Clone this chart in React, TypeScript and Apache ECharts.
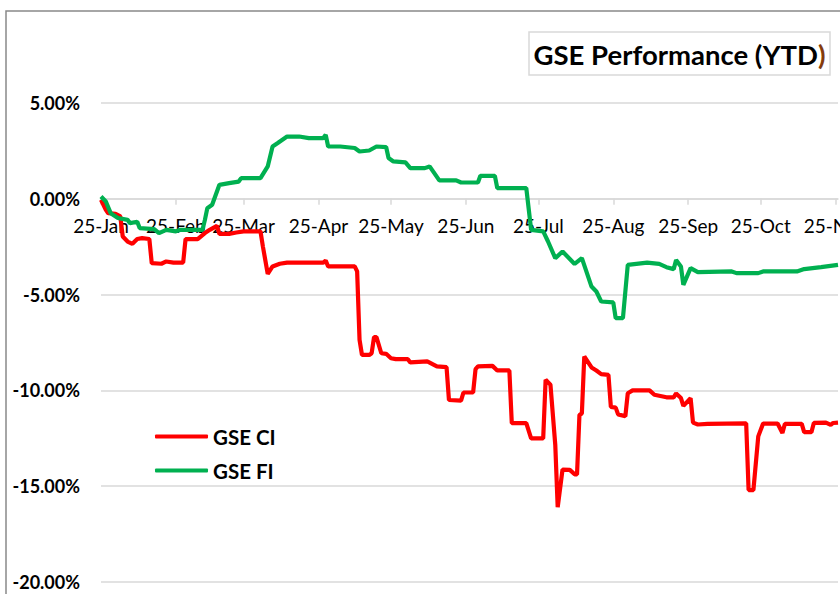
import React, { useEffect, useRef } from "react";
import * as echarts from "echarts";

const monthNames = ["Jan", "Feb", "Mar", "Apr", "May", "Jun", "Jul", "Aug", "Sep", "Oct", "Nov", "Dec"];
const yTicks = [-20, -15, -10, -5, 0, 5];
const seriesNames = ["GSE CI", "GSE FI"];

const gseCI: [string, number][] = [
  ["2025-01-01", -0.05], ["2025-01-03", -0.57], ["2025-01-04", -0.75], ["2025-01-07", -0.78],
  ["2025-01-09", -0.92], ["2025-01-10", -1.97], ["2025-01-12", -2.23], ["2025-01-14", -2.35],
  ["2025-01-16", -2.1], ["2025-01-18", -2.05], ["2025-01-21", -2.1], ["2025-01-22", -3.36],
  ["2025-01-26", -3.39], ["2025-01-28", -3.27], ["2025-01-31", -3.33], ["2025-02-04", -3.33],
  ["2025-02-05", -2.1], ["2025-02-10", -2.1], ["2025-02-13", -1.79], ["2025-02-15", -1.62],
  ["2025-02-18", -1.41], ["2025-02-19", -1.83], ["2025-02-23", -1.83], ["2025-02-26", -1.76],
  ["2025-03-01", -1.7], ["2025-03-08", -1.7], ["2025-03-09", -2.49], ["2025-03-11", -3.92],
  ["2025-03-13", -3.53], ["2025-03-16", -3.39], ["2025-03-19", -3.33], ["2025-04-03", -3.33],
  ["2025-04-04", -3.22], ["2025-04-05", -3.53], ["2025-04-16", -3.53], ["2025-04-17", -3.79],
  ["2025-04-18", -7.36], ["2025-04-19", -8.15], ["2025-04-22", -8.15], ["2025-04-23", -8.06],
  ["2025-04-24", -7.22], ["2025-04-25", -7.22], ["2025-04-27", -8.06], ["2025-04-29", -8.09],
  ["2025-05-01", -8.32], ["2025-05-03", -8.37], ["2025-05-08", -8.37], ["2025-05-09", -8.54],
  ["2025-05-16", -8.49], ["2025-05-20", -8.75], ["2025-05-24", -8.79], ["2025-05-25", -10.5],
  ["2025-05-30", -10.53], ["2025-05-31", -10.11], ["2025-06-04", -10.11], ["2025-06-05", -8.89],
  ["2025-06-06", -8.75], ["2025-06-12", -8.72], ["2025-06-14", -8.96], ["2025-06-19", -8.96],
  ["2025-06-20", -11.71], ["2025-06-26", -11.71], ["2025-06-28", -12.5], ["2025-07-03", -12.5],
  ["2025-07-04", -9.45], ["2025-07-06", -9.7], ["2025-07-08", -12.85], ["2025-07-09", -16.1],
  ["2025-07-11", -14.13], ["2025-07-14", -14.15], ["2025-07-16", -14.38], ["2025-07-17", -14.38],
  ["2025-07-18", -11.28], ["2025-07-19", -11.2], ["2025-07-20", -8.23], ["2025-07-23", -8.8],
  ["2025-07-25", -8.96], ["2025-07-27", -9.15], ["2025-07-30", -9.19], ["2025-07-31", -10.86],
  ["2025-08-02", -10.9], ["2025-08-03", -11.25], ["2025-08-06", -11.35], ["2025-08-07", -10.15],
  ["2025-08-09", -10.0], ["2025-08-16", -10.0], ["2025-08-18", -10.23], ["2025-08-23", -10.36],
  ["2025-08-26", -10.36], ["2025-08-27", -10.16], ["2025-08-29", -10.4], ["2025-08-30", -10.81],
  ["2025-09-02", -10.41], ["2025-09-03", -11.68], ["2025-09-05", -11.78], ["2025-09-09", -11.75],
  ["2025-09-25", -11.72], ["2025-09-26", -15.2], ["2025-09-28", -15.2], ["2025-09-30", -12.4],
  ["2025-10-02", -11.73], ["2025-10-08", -11.73], ["2025-10-10", -12.22], ["2025-10-11", -11.75],
  ["2025-10-18", -11.75], ["2025-10-19", -12.18], ["2025-10-22", -12.18], ["2025-10-23", -11.7],
  ["2025-10-28", -11.68], ["2025-10-30", -11.8], ["2025-10-31", -11.7], ["2025-11-02", -11.68],
];

const gseFI: [string, number][] = [
  ["2025-01-01", 0.12], ["2025-01-03", -0.14], ["2025-01-05", -0.75], ["2025-01-08", -1.0],
  ["2025-01-12", -1.1], ["2025-01-13", -1.27], ["2025-01-16", -1.2], ["2025-01-17", -1.53],
  ["2025-01-23", -1.58], ["2025-01-25", -1.79], ["2025-01-28", -1.62], ["2025-02-01", -1.7],
  ["2025-02-03", -1.62], ["2025-02-12", -1.62], ["2025-02-13", -1.1], ["2025-02-14", -0.49],
  ["2025-02-16", -0.31], ["2025-02-19", 0.73], ["2025-02-23", 0.82], ["2025-02-27", 0.9],
  ["2025-02-28", 1.08], ["2025-03-08", 1.08], ["2025-03-11", 1.69], ["2025-03-13", 2.73],
  ["2025-03-15", 2.9], ["2025-03-19", 3.25], ["2025-03-24", 3.25], ["2025-03-28", 3.17],
  ["2025-04-03", 3.17], ["2025-04-04", 3.34], ["2025-04-05", 2.73], ["2025-04-10", 2.73],
  ["2025-04-16", 2.65], ["2025-04-18", 2.47], ["2025-04-22", 2.52], ["2025-04-25", 2.73],
  ["2025-04-29", 2.7], ["2025-04-30", 2.13], ["2025-05-02", 1.95], ["2025-05-07", 1.9],
  ["2025-05-09", 1.6], ["2025-05-15", 1.6], ["2025-05-17", 1.69], ["2025-05-21", 0.96],
  ["2025-05-28", 0.96], ["2025-05-30", 0.85], ["2025-06-06", 0.85], ["2025-06-07", 1.2],
  ["2025-06-13", 1.2], ["2025-06-14", 0.56], ["2025-06-26", 0.56], ["2025-06-28", -1.62],
  ["2025-07-03", -1.7], ["2025-07-05", -2.23], ["2025-07-08", -3.1], ["2025-07-11", -2.75],
  ["2025-07-16", -3.4], ["2025-07-19", -3.1], ["2025-07-23", -4.58], ["2025-07-25", -4.84],
  ["2025-07-27", -5.36], ["2025-08-01", -5.41], ["2025-08-02", -6.23], ["2025-08-05", -6.23],
  ["2025-08-07", -3.45], ["2025-08-15", -3.33], ["2025-08-20", -3.4], ["2025-08-23", -3.57],
  ["2025-08-26", -3.67], ["2025-08-27", -3.2], ["2025-08-29", -3.53], ["2025-08-30", -4.49],
  ["2025-09-02", -3.62], ["2025-09-05", -3.83], ["2025-09-19", -3.79], ["2025-09-21", -3.88],
  ["2025-09-30", -3.88], ["2025-10-02", -3.79], ["2025-10-16", -3.79], ["2025-10-19", -3.67],
  ["2025-10-26", -3.57], ["2025-11-02", -3.45],
];

const axisStart = "2025-01-01";
const axisEnd = "2025-11-02";

const toTs = (s: string) => {
  const [y, m, d] = s.split("-").map(Number);
  return new Date(y, m - 1, d).getTime();
};

export default function App() {
  const ref = useRef<HTMLDivElement>(null);

  useEffect(() => {
    if (!ref.current) return;
    const chart = echarts.init(ref.current, null, { renderer: "svg" });
    const minTs = toTs(axisStart);
    const maxTs = toTs(axisEnd);
    const monthStarts: number[] = [];
    for (let m = 0; m < 12; m++) {
      const t = new Date(2025, m, 1).getTime();
      if (t >= minTs && t <= maxTs) monthStarts.push(t);
    }
    const font = "Lato, 'Open Sans', sans-serif";
    const gridTop = 103;
    const gridBottomPx = 582;
    const yMin = yTicks[0];
    const yMax = yTicks[yTicks.length - 1];
    // place the x axis at the zero line of the y scale
    const zeroOffset = -((gridBottomPx - gridTop) * (0 - yMin)) / (yMax - yMin);
    chart.setOption({
      animation: false,
      backgroundColor: "#fff",
      grid: {
        left: 101,
        right: 62,
        top: gridTop,
        bottom: 620 - gridBottomPx,
        containLabel: false,
        outerBoundsMode: "none",
      },
      legend: {
        data: seriesNames,
        orient: "vertical",
        left: 150,
        top: 421,
        itemWidth: 53,
        itemHeight: 4,
        itemGap: 13,
        icon: "roundRect",
        textStyle: { fontFamily: font, fontSize: 20.5, fontWeight: "bold", color: "#000" },
      },
      xAxis: {
        type: "value",
        min: minTs,
        max: maxTs,
        position: "bottom",
        offset: zeroOffset,
        axisLine: { onZero: false, lineStyle: { color: "#d9d9d9", width: 1.5 } },
        axisTick: { show: true, customValues: monthStarts, length: 6, lineStyle: { color: "#d9d9d9", width: 1.5 } },
        axisLabel: {
          customValues: monthStarts,
          hideOverlap: false,
          showMinLabel: true,
          showMaxLabel: true,
          margin: 17,
          color: "#000",
          fontFamily: font,
          fontSize: 19,
          formatter: (v: number) => {
            const d = new Date(v);
            return String(d.getFullYear()).slice(2) + "-" + monthNames[d.getMonth()];
          },
        },
        splitLine: { show: false },
      },
      yAxis: {
        type: "value",
        min: yMin,
        max: yMax,
        interval: 5,
        axisLine: { show: false },
        axisTick: { show: false },
        axisLabel: {
          margin: 21,
          color: "#000",
          fontFamily: font,
          fontSize: 18,
          fontWeight: "bold",
          formatter: (v: number) => v.toFixed(2) + "%",
        },
        splitLine: { lineStyle: { color: "#d9d9d9", width: 1.5 } },
      },
      graphic: [
        {
          type: "rect",
          z: 0,
          silent: true,
          shape: { x: 6, y: 11, width: 1200, height: 1200 },
          style: { fill: "none", stroke: "#898989", lineWidth: 1.5 },
        },
        {
          type: "rect",
          silent: true,
          shape: { x: 529, y: 32, width: 301, height: 43 },
          style: { fill: "#fff", stroke: "#d9d9d9", lineWidth: 1.5 },
        },
        {
          type: "text",
          silent: true,
          x: 679.5,
          y: 54,
          style: {
            text: "{a|GSE Performance (YTD}{b|)}",
            align: "center",
            verticalAlign: "middle",
            rich: {
              a: { fontFamily: font, fontSize: 27.5, fontWeight: "bold", fill: "#000" },
              b: { fontFamily: font, fontSize: 27.5, fontWeight: "bold", fill: "#843C0C" },
            },
          },
        },
      ],
      series: [
        {
          name: seriesNames[0],
          type: "line",
          data: gseCI.map(([d, v]) => [toTs(d), v]),
          showSymbol: false,
          lineStyle: { color: "#FF0000", width: 4.2 },
          itemStyle: { color: "#FF0000" },
        },
        {
          name: seriesNames[1],
          type: "line",
          data: gseFI.map(([d, v]) => [toTs(d), v]),
          showSymbol: false,
          lineStyle: { color: "#00B050", width: 4.2 },
          itemStyle: { color: "#00B050" },
        },
      ],
    });
    return () => chart.dispose();
  }, []);

  return (
    <div
      style={{
        position: "fixed",
        left: 0,
        top: 0,
        width: 840,
        height: 594,
        overflow: "hidden",
        background: "#fff",
      }}
    >
      <div ref={ref} style={{ width: 900, height: 620 }} />
    </div>
  );
}
